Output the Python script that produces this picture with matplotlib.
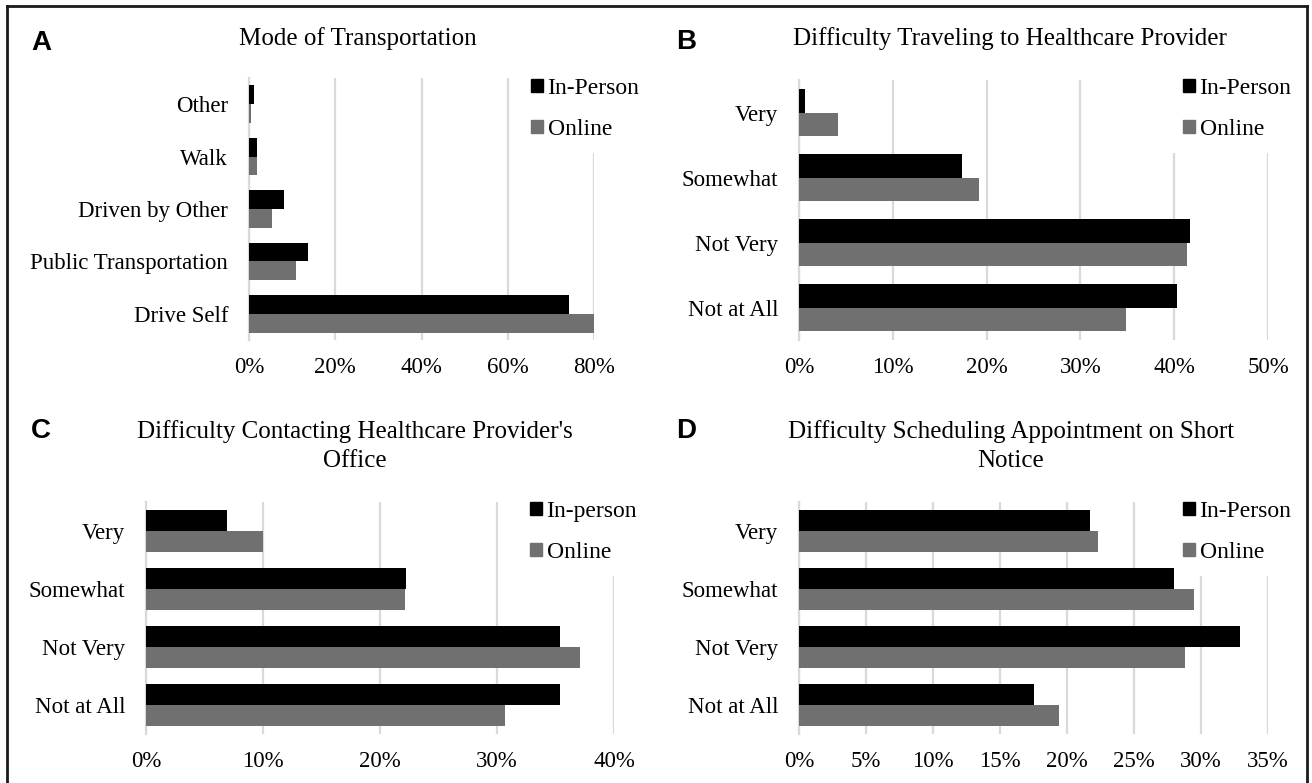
import numpy as np
import matplotlib
matplotlib.use("Agg")
import matplotlib.pyplot as plt
from matplotlib.lines import Line2D
from matplotlib.patches import Patch

# data (percent of respondents)
cats_a = ["Other", "Walk", "Driven by Other", "Public Transportation", "Drive Self"]
inperson_a = [1.1, 1.9, 8.0, 13.6, 74.2]
online_a = [0.4, 1.9, 5.4, 11.0, 80.0]
ticks_a = [0, 20, 40, 60, 80]

cats_b = ["Very", "Somewhat", "Not Very", "Not at All"]
inperson_b = [0.6, 17.4, 41.7, 40.3]
online_b = [4.2, 19.2, 41.4, 34.9]
ticks_b = [0, 10, 20, 30, 40, 50]

cats_c = ["Very", "Somewhat", "Not Very", "Not at All"]
inperson_c = [6.9, 22.2, 35.4, 35.4]
online_c = [10.0, 22.1, 37.1, 30.7]
ticks_c = [0, 10, 20, 30, 40]

cats_d = ["Very", "Somewhat", "Not Very", "Not at All"]
inperson_d = [21.7, 28.0, 32.9, 17.5]
online_d = [22.3, 29.5, 28.8, 19.4]
ticks_d = [0, 5, 10, 15, 20, 25, 30, 35]

W, H = 1312, 783
BLACK = "#000000"
GRAY = "#707070"
GRID = "#d9d9d9"
SERIF = "Liberation Serif"

plt.rcParams["font.family"] = SERIF

fig = plt.figure(figsize=(W / 100, H / 100), dpi=100)


def box(left, top, right, bottom):
    return [left / W, 1 - bottom / H, (right - left) / W, (bottom - top) / H]


def panel(rect, cats, inp, onl, ticks, names, title, title_xy, letter, letter_xy, leg_xy):
    ax = fig.add_axes(box(*rect))
    y = np.arange(len(cats))
    h = 0.36
    # bars above the legend box, gridlines below it
    ax.barh(y - h / 2, inp, height=h, color=BLACK, zorder=6)
    ax.barh(y + h / 2, onl, height=h, color=GRAY, zorder=6)
    ax.set_ylim(len(cats) - 0.5, -0.5)
    ax.set_xlim(ticks[0], ticks[-1])
    ax.set_xticks(ticks)
    ax.set_xticklabels([f"{t}%" for t in ticks], fontsize=16.5)
    ax.set_yticks(y)
    ax.set_yticklabels(cats, fontsize=16.5)
    ax.tick_params(length=0, pad=12)
    ax.tick_params(axis="y", pad=15)
    ax.xaxis.grid(True, color=GRID, linewidth=1.6, zorder=0)
    ax.set_axisbelow(True)
    for s in ["top", "right", "bottom"]:
        ax.spines[s].set_visible(False)
    ax.spines["left"].set_color(GRID)
    ax.spines["left"].set_linewidth(1.6)

    handles = [Patch(color=BLACK), Patch(color=GRAY)]
    leg = ax.legend(handles, names, loc="upper left",
                    bbox_to_anchor=(leg_xy[0] / W, 1 - leg_xy[1] / H),
                    bbox_transform=fig.transFigure, fontsize=17,
                    handlelength=0.5, handleheight=0.5, handletextpad=0.2,
                    labelspacing=0.85, borderpad=0.55, borderaxespad=0,
                    frameon=True, fancybox=False)
    leg.get_frame().set_facecolor("white")
    leg.get_frame().set_edgecolor("none")
    leg.get_frame().set_alpha(1)

    fig.text(title_xy[0] / W, 1 - title_xy[1] / H, title, ha="center", va="center",
             fontsize=18, linespacing=1.4)
    fig.text(letter_xy[0] / W, 1 - letter_xy[1] / H, letter, ha="center", va="center",
             fontsize=20, fontweight="bold", family="Liberation Sans")
    return ax


panel((249, 78, 594, 340), cats_a, inperson_a, online_a, ticks_a, ["In-Person", "Online"],
      "Mode of Transportation", (358, 39), "A", (41, 43), (518, 65))
panel((799, 80, 1268, 340), cats_b, inperson_b, online_b, ticks_b, ["In-Person", "Online"],
      "Difficulty Traveling to Healthcare Provider", (1010, 39), "B", (686, 42), (1170, 65))
panel((146, 502, 614, 734), cats_c, inperson_c, online_c, ticks_c, ["In-person", "Online"],
      "Difficulty Contacting Healthcare Provider's\nOffice", (355, 446), "C", (41, 431), (517, 488))
panel((799, 502, 1268, 734), cats_d, inperson_d, online_d, ticks_d, ["In-Person", "Online"],
      "Difficulty Scheduling Appointment on Short\nNotice", (1011, 446), "D", (686, 431), (1170, 488))

# outer frame (open at the bottom, as in the cropped original)
for xs, ys in [([7, 7], [6, 790]), ([7, 1307], [6, 6]), ([1307, 1307], [6, 790])]:
    fig.add_artist(Line2D([x / W for x in xs], [1 - v / H for v in ys],
                          color="#1a1a1a", linewidth=2))

fig.savefig("out.png", dpi=100)
